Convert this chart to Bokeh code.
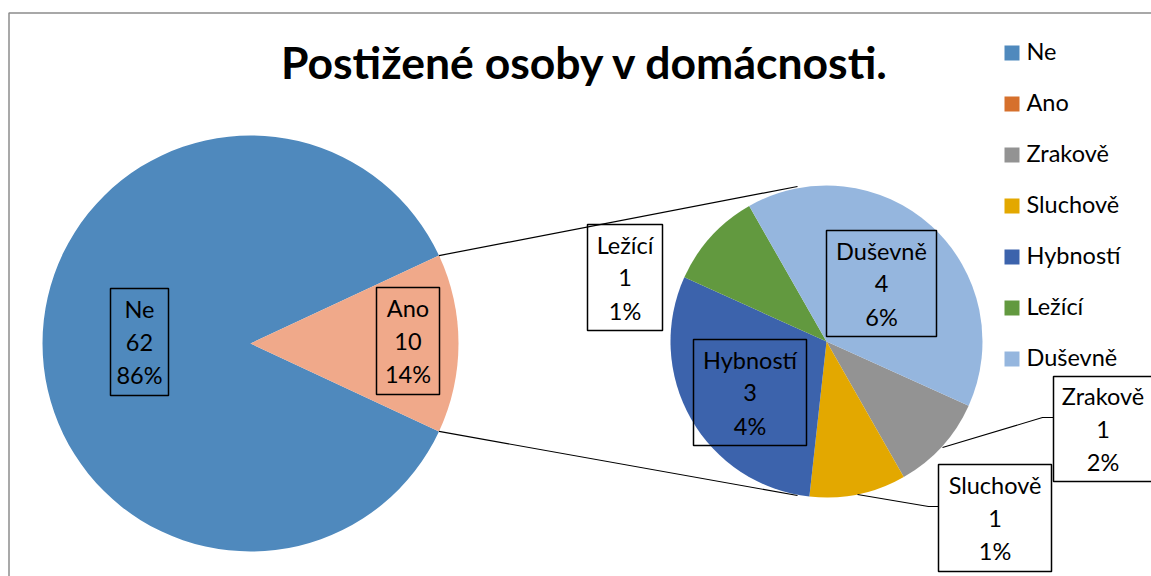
import numpy as np
from bokeh.plotting import figure
from bokeh.models import Range1d
from bokeh.core.properties import value
from bokeh.embed import file_html
from bokeh.resources import INLINE

# ---------------- data ----------------
title = "Postižené osoby v domácnosti."
main_labels = ["Ne", "Ano"]
main_values = [62, 10]
main_pct = ["86%", "14%"]
sub_labels = ["Zrakově", "Sluchově", "Hybností", "Ležící", "Duševně"]
sub_values = [1, 1, 3, 1, 4]
sub_pct = ["2%", "1%", "4%", "1%", "6%"]
legend_labels = main_labels + sub_labels

# ---------------- styles ----------------
main_colors = ["#4F89BD", "#F0A98A"]
legend_colors = ["#4F89BD", "#D6702C", "#939393", "#E3A800", "#3C63AC", "#62993F", "#95B6DE"]
sub_colors = legend_colors[2:]
FONT = value("Lato")
FS = 23.5        # label / legend font size (px)
FS_T = 44.5      # title font size (px)
BASE_FIX = 0.4   # empirical baseline correction (em)

W, H, OFF, IMG_H = 1151, 576, 0, 576


def Y(y):
    return IMG_H - y


def YT(y, fs):
    return IMG_H - y + BASE_FIX * fs


p = figure(width=W, height=H, x_range=Range1d(OFF, OFF + W),
           y_range=Range1d(IMG_H - OFF - H, IMG_H - OFF),
           output_backend="svg", toolbar_location=None, min_border=0,
           x_axis_location=None, y_axis_location=None, outline_line_color=None)
p.grid.visible = False
p.background_fill_color = "white"

# chart border (gray)
p.line([8.5, 8.5, 1300], [Y(700), Y(12.5), Y(12.5)], line_color="#8C8C8C", line_width=1.5)

# ---------------- main pie ----------------
mcx, mcy, mr = 250, Y(343), 208
mvals = np.array(main_values, dtype=float)
mang = 2 * np.pi * mvals / mvals.sum()
half = mang[1] / 2  # "Ano" slice centered at the right
m_start = [half, -half]
m_end = [half + mang[0], half]
p.wedge(x=[mcx, mcx], y=[mcy, mcy], radius=mr, radius_units="screen",
        start_angle=m_start, end_angle=m_end, fill_color=main_colors,
        line_color=None, direction="anticlock")

# ---------------- secondary pie ----------------
scx, scy, sr = 826, Y(341), 156
svals = np.array(sub_values, dtype=float)
sang = 2 * np.pi * svals / svals.sum()
cum = np.cumsum(sang)
start0 = np.deg2rad(-24.3)
upper = start0 - (cum - sang)
lower = start0 - cum
p.wedge(x=[scx] * len(svals), y=[scy] * len(svals), radius=sr, radius_units="screen",
        start_angle=list(lower), end_angle=list(upper), fill_color=sub_colors,
        line_color=None, direction="anticlock")

# connector lines
tx, ty = mcx + mr * np.cos(half), mr * np.sin(half)
p.line([tx, 797], [mcy + ty, Y(186)], line_color="black", line_width=1.2)
p.line([tx, 797], [mcy - ty, Y(495)], line_color="black", line_width=1.2)

# leader lines
p.line([942, 1042, 1053], [Y(447), Y(417), Y(417)], line_color="black", line_width=1.1)
p.line([857, 928, 938], [Y(494), Y(506), Y(506)], line_color="black", line_width=1.1)

# ---------------- data labels ----------------
lab_names = main_labels + sub_labels
lab_vals = [str(v) for v in main_values + sub_values]
lab_pcts = main_pct + sub_pct
# box layout: left, right, top, bottom (pixel layout)
boxes = {
    "Ne": (110, 168, 288, 395),
    "Ano": (376, 439, 287, 394),
    "Zrakově": (1053, 1152, 376, 481),
    "Sluchově": (938, 1051, 464, 571),
    "Hybností": (693, 806, 339, 445),
    "Ležící": (587, 662, 224, 330),
    "Duševně": (826, 936, 230, 336),
}
bx, by, bw, bh = [], [], [], []
tx_, ty_, tt = [], [], []
for name, v, pc in zip(lab_names, lab_vals, lab_pcts):
    l, r, t, b = boxes[name]
    cx, cy = (l + r) / 2, (t + b) / 2
    bx.append(cx); by.append(Y(cy)); bw.append(r - l); bh.append(b - t)
    for k, s in enumerate([name, v, pc]):
        tx_.append(cx); ty_.append(YT(cy - 23.5 + 33 * k, FS)); tt.append(s)
p.rect(x=bx, y=by, width=bw, height=bh, fill_color=None, line_color="black", line_width=1.5)
p.text(x=tx_, y=ty_, text=tt, text_font=FONT, text_font_size=f"{FS}px",
       text_align="center", text_baseline="alphabetic", text_color="black")

# ---------------- legend ----------------
lg_y = [52.5 + 51 * i for i in range(len(legend_labels))]
p.rect(x=[1011.5] * len(legend_labels), y=[Y(v) for v in lg_y], width=15, height=15,
       fill_color=legend_colors, line_color=None)
p.text(x=[1026] * len(legend_labels), y=[YT(v + 7.5, FS) for v in lg_y], text=legend_labels,
       text_font=FONT, text_font_size=f"{FS}px", text_align="left",
       text_baseline="alphabetic", text_color="black")

# ---------------- title ----------------
p.text(x=[585], y=[YT(79, FS_T)], text=[title], text_font=FONT, text_font_style="bold",
       text_font_size=f"{FS_T}px", text_align="center", text_baseline="alphabetic",
       text_color="black")

open("out.html", "w").write(file_html(p, INLINE))
